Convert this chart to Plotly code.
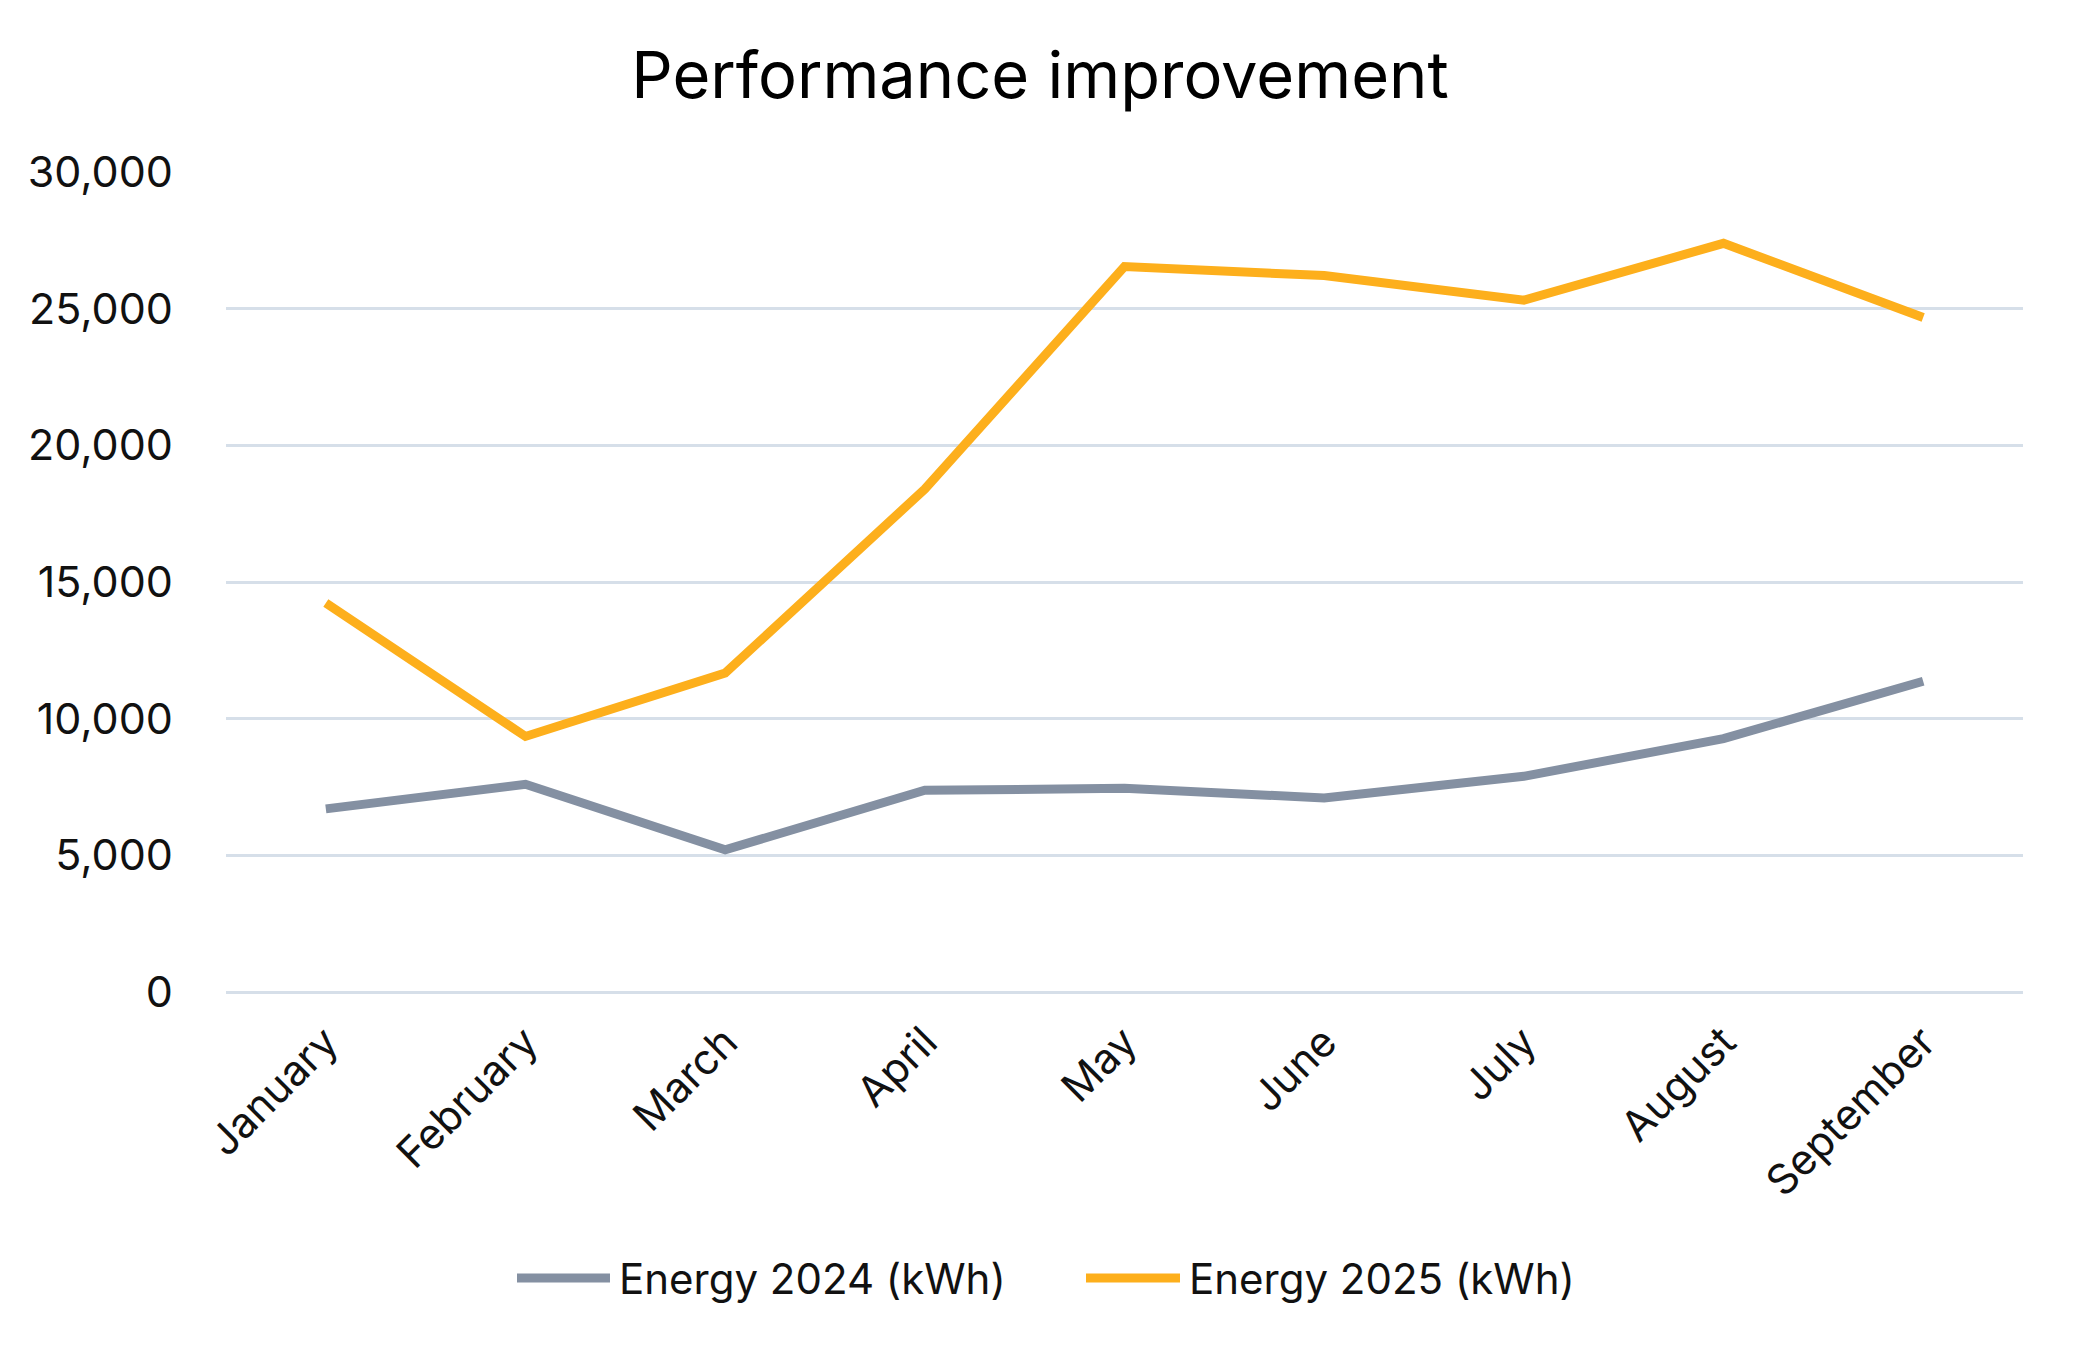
import plotly.graph_objects as go

months = ["January", "February", "March", "April", "May", "June", "July", "August", "September"]
energy_2024 = [6700, 7600, 5200, 7380, 7450, 7100, 7890, 9270, 11370]
energy_2025 = [14230, 9350, 11670, 18400, 26540, 26210, 25310, 27390, 24680]
series_names = ["Energy 2024 (kWh)", "Energy 2025 (kWh)"]
series_colors = ["#8490A2", "#FDAF1C"]
y_ticks = [0, 5000, 10000, 15000, 20000, 25000, 30000]

# page has an 8px body margin: shrink the figure so it fits the window exactly
OFF = 8
W, H = 2080 - 2 * OFF, 1352 - 2 * OFF
ML, MR, MT, MB = 226 - OFF, 57 - OFF, 172 - OFF, 360 - OFF
FONT = "Inter"

fig = go.Figure()
for name, vals, col in zip(series_names, [energy_2024, energy_2025], series_colors):
    fig.add_trace(go.Scatter(x=months, y=vals, mode="lines", name=name,
                             line=dict(color=col, width=9), showlegend=False))

pw = W - ML - MR
ph = H - MT - MB

def px2paper_x(px):
    return (px - OFF - ML) / pw

def px2paper_y(py):
    return (H - MB - (py - OFF)) / ph

# custom legend (long line swatches like the reference)
legend_items = [(517, 610, 617), (1086, 1180, 1187)]
leg_y = 1278
for (x0, x1, tx), name, col in zip(legend_items, series_names, series_colors):
    fig.add_shape(type="line", xref="paper", yref="paper",
                  x0=px2paper_x(x0), x1=px2paper_x(x1),
                  y0=px2paper_y(leg_y), y1=px2paper_y(leg_y),
                  line=dict(color=col, width=9))
    fig.add_annotation(xref="paper", yref="paper", x=px2paper_x(tx), y=px2paper_y(leg_y),
                       text=name, showarrow=False, xanchor="left", yanchor="middle",
                       font=dict(family=FONT, size=42, color="#111111"))

fig.update_layout(
    width=W, height=H,
    margin=dict(l=ML, r=MR, t=MT, b=MB),
    paper_bgcolor="white", plot_bgcolor="white",
    title=dict(text="Performance improvement", x=0.5, xanchor="center",
               y=1 - (75 - OFF) / H, yanchor="middle", yref="container",
               font=dict(family=FONT, size=65, color="#000000")),
    font=dict(family=FONT, color="#111111"),
)
fig.update_xaxes(type="category", range=[-0.5, 8.5], showgrid=False, showline=False,
                 zeroline=False, tickangle=-45, ticks="", ticklabelstandoff=16,
                 tickfont=dict(family=FONT, size=42, color="#111111"))
fig.update_yaxes(range=[0, 30000], tickvals=y_ticks, tickformat=",", showgrid=True,
                 gridcolor="#D6DFE9", gridwidth=3, zeroline=True, zerolinecolor="#D6DFE9",
                 zerolinewidth=3, showline=False, ticks="", ticklabelstandoff=52,
                 tickfont=dict(family=FONT, size=43, color="#111111"))

fig.write_html("out.html")
